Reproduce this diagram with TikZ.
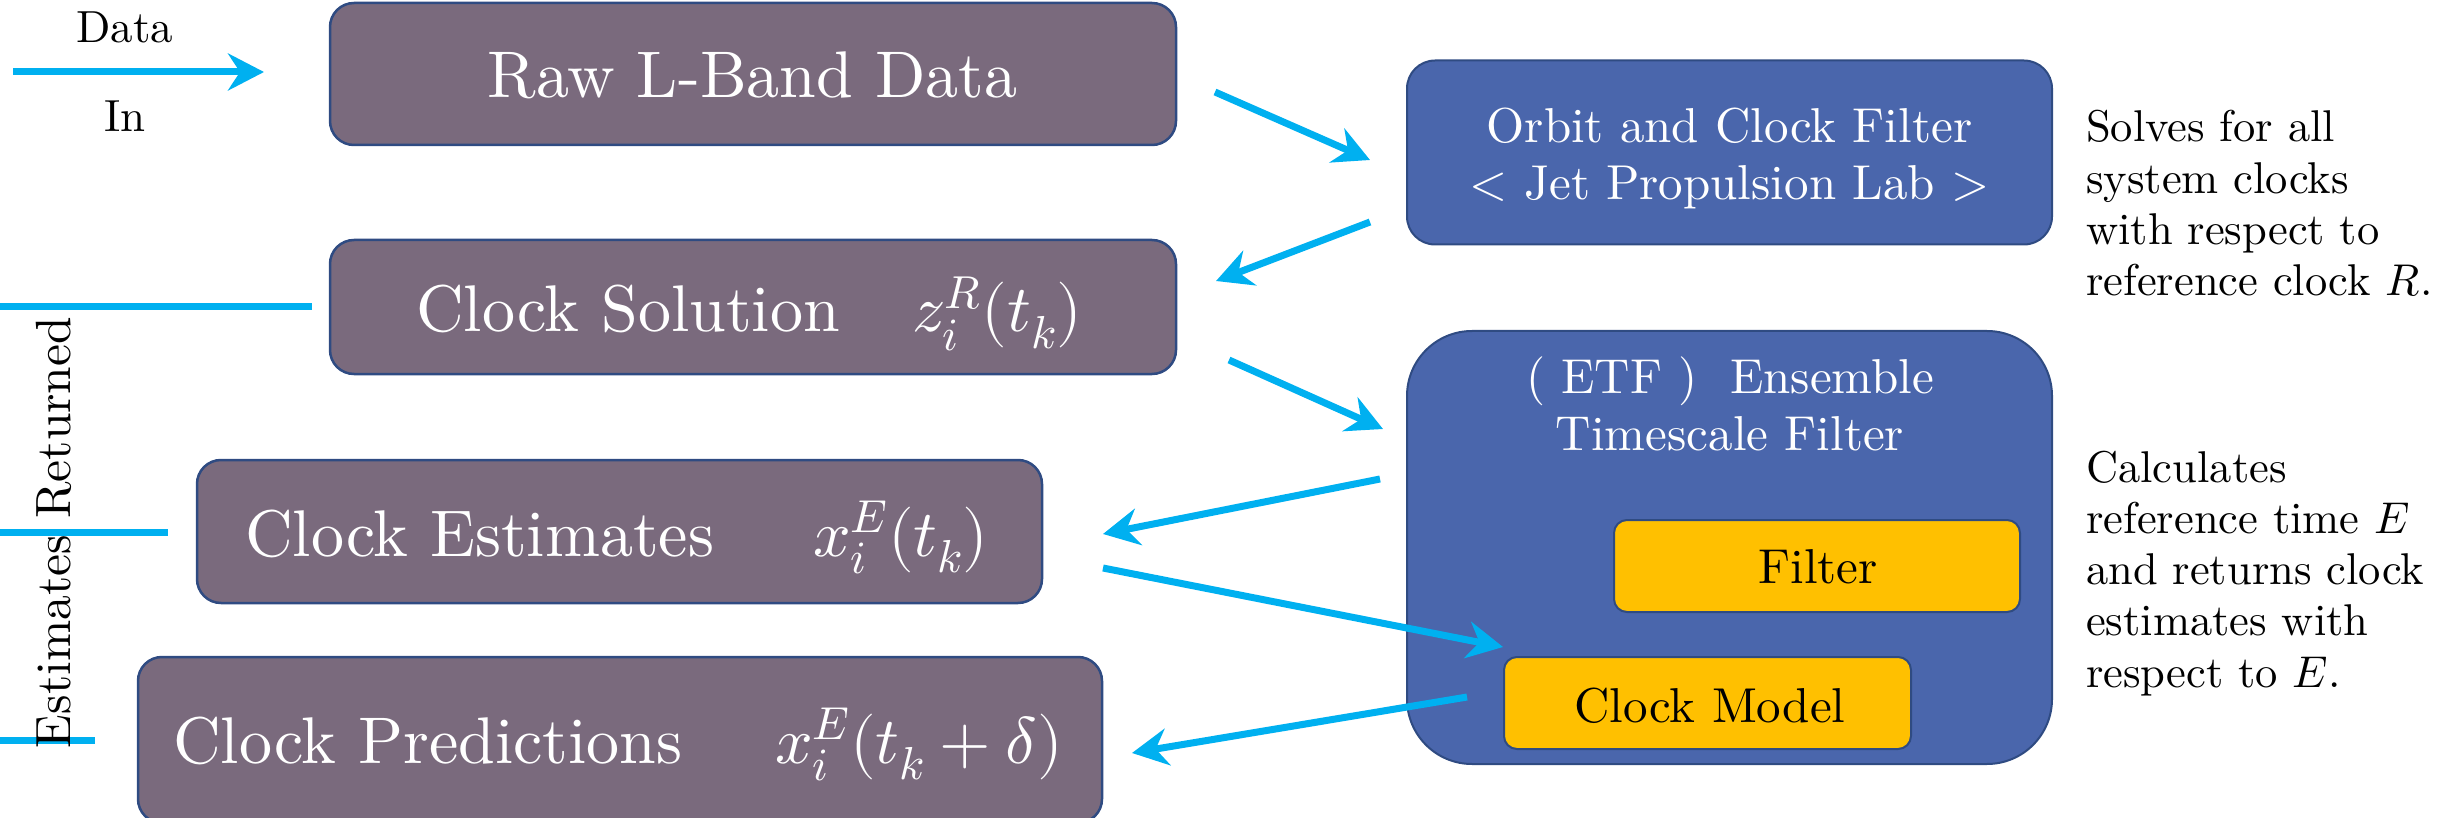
\documentclass[tikz,border=0pt]{standalone}
\usepackage{unicode-math}
\setmainfont{lmroman10-regular}[Extension=.otf, ItalicFont=lmroman10-italic, BoldFont=lmroman10-bold]
\usetikzlibrary{arrows.meta}
\definecolor{boxpurple}{RGB}{122,106,125}
\definecolor{boxblue}{RGB}{74,102,172}
\definecolor{boxedge}{RGB}{47,75,130}
\definecolor{flowcyan}{RGB}{0,176,240}
\definecolor{boxorange}{RGB}{255,192,0}
\tikzset{
  pbox/.style={draw=boxedge, line width=2.5pt, fill=boxpurple, rounded corners=24pt, inner sep=0pt},
  bbox/.style={draw=boxedge, line width=2pt, fill=boxblue, inner sep=0pt},
  obox/.style={draw=boxedge, line width=2pt, fill=boxorange, rounded corners=13pt, inner sep=0pt},
  flow/.style={draw=flowcyan, line width=7pt, -{Stealth[length=36pt,width=37pt,inset=12pt]}},
  plainline/.style={draw=flowcyan, line width=7pt},
  bigtxt/.style={text=white, font=\fontsize{66}{79}\selectfont, inner sep=0pt, anchor=base west},
  midtxt/.style={font=\fontsize{49}{57}\selectfont, inner sep=0pt, anchor=base},
  sidetxt/.style={font=\fontsize{44.5}{51.3}\selectfont, inner sep=0pt, anchor=base west},
  labtxt/.style={font=\fontsize{45}{54}\selectfont, inner sep=0pt, anchor=base},
}
\begin{document}
\begin{tikzpicture}[x=1pt,y=-1pt]
\useasboundingbox (0,0) rectangle (2445,818);
\clip (0,0) rectangle (2445,818);
% boxes
\node[pbox, minimum width=846pt, minimum height=142pt] (raw) at (753,74) {};
\node[pbox, minimum width=846pt, minimum height=134pt] (sol) at (753,307) {};
\node[pbox, minimum width=845pt, minimum height=143pt] (est) at (619.5,531.5) {};
\node[pbox, minimum width=964pt, minimum height=166pt] (pred) at (620,740) {};
\node[bbox, rounded corners=28pt, minimum width=645pt, minimum height=184pt] (jpl) at (1729.5,152.5) {};
\node[bbox, rounded corners=65pt, minimum width=645pt, minimum height=433pt] (etf) at (1729.5,547.5) {};
\node[obox, minimum width=406pt, minimum height=92pt] (filt) at (1817,566) {};
\node[obox, minimum width=407pt, minimum height=92pt] (cmod) at (1707.5,703) {};
% return lines
\coordinate (solL) at (0,307);
\coordinate (solR) at (312,307);
\coordinate (estL) at (0,532);
\coordinate (estR) at (168,532);
\coordinate (predL) at (0,740);
\coordinate (predR) at (95,740);
\draw[plainline] (solL) -- (solR);
\draw[plainline] (estL) -- (estR);
\draw[plainline] (predL) -- (predR);
% texts
\node[bigtxt, anchor=base] (rawt) at (752.5,98) {Raw L-Band Data};
\node[bigtxt] (solt) at (416,332) {Clock Solution};
\node[bigtxt] (solm) at (912,332) {$z_i^R(t_k)$};
\node[bigtxt] (estt) at (245,556) {Clock Estimates};
\node[bigtxt] (estm) at (813,556) {$x_i^E(t_k)$};
\node[bigtxt] (predt) at (173,763) {Clock Predictions};
\node[bigtxt] (predm) at (775,763) {$x_i^E(t_k+\delta)$};
\node[midtxt, text=white] (jplt) at (1729.5,143) {\begin{tabular}[t]{@{}c@{}}Orbit and Clock Filter\\< Jet Propulsion Lab >\end{tabular}};
\node[midtxt, text=white] (etft) at (1730,393) {\begin{tabular}[t]{@{}c@{}}( ETF )\ \ Ensemble\\Timescale Filter\end{tabular}};
\node[midtxt] (filtt) at (1818,583) {Filter};
\node[midtxt] (cmodt) at (1710,722) {Clock Model};
\node[sidetxt] (solves) at (2086,142) {\begin{tabular}[t]{@{}l@{}}Solves for all\\system clocks\\with respect to\\reference clock $R$.\end{tabular}};
\node[sidetxt] (calc) at (2086,482) {\begin{tabular}[t]{@{}l@{}}Calculates\\reference time $E$\\and returns clock\\estimates with\\respect to $E$.\end{tabular}};
\node[labtxt] (datat) at (125,43) {Data};
\node[labtxt] (int) at (125,132) {In};
\node[font=\fontsize{49.5}{59}\selectfont, rotate=90, anchor=base, inner sep=0pt] (ret) at (70,532.5) {Estimates Returned};
% arrows
\coordinate (dS) at (13,72);
\coordinate (dE) at (264,72);
\coordinate (a1s) at (1215,92);
\coordinate (a1e) at (1370,160);
\coordinate (a2s) at (1370,222);
\coordinate (a2e) at (1216,281);
\coordinate (a3s) at (1229,360);
\coordinate (a3e) at (1383,429);
\coordinate (a4s) at (1380,479);
\coordinate (a4e) at (1103,534);
\coordinate (a5s) at (1103,568);
\coordinate (a5e) at (1503,647);
\coordinate (a6s) at (1467,697);
\coordinate (a6e) at (1132,753);
\draw[flow] (dS) -- (dE);
\draw[flow] (a1s) -- (a1e);
\draw[flow] (a2s) -- (a2e);
\draw[flow] (a3s) -- (a3e);
\draw[flow] (a4s) -- (a4e);
\draw[flow] (a5s) -- (a5e);
\draw[flow] (a6s) -- (a6e);
\end{tikzpicture}
\end{document}
